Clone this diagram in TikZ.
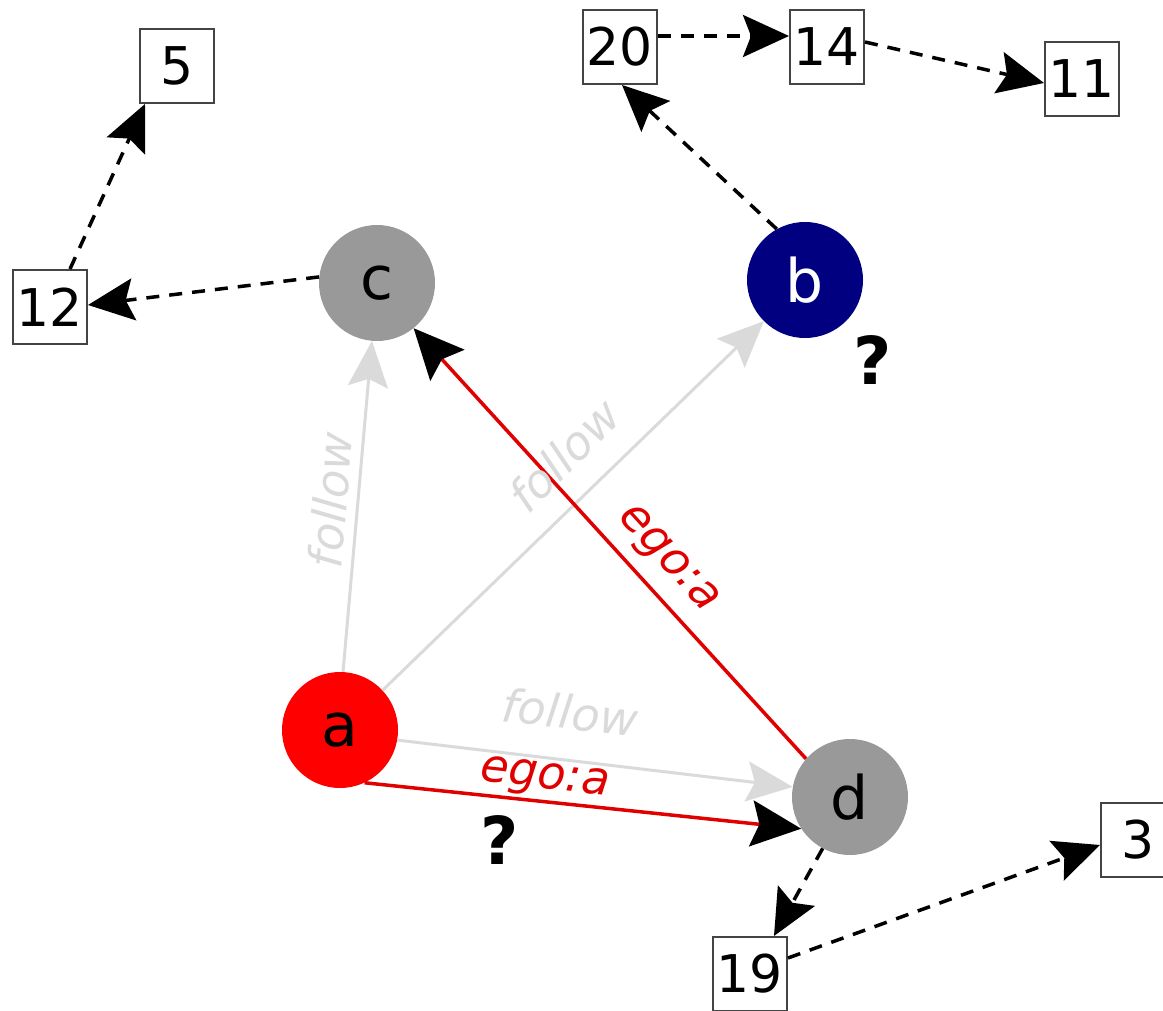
\documentclass[tikz,border=0pt]{standalone}
\usepackage{fontspec}
\setmainfont{DejaVu Sans}
\usetikzlibrary{arrows.meta}
\definecolor{edgegray}{HTML}{DADADA}
\definecolor{nodegray}{HTML}{999999}
\definecolor{egored}{HTML}{E00000}
\definecolor{bnavy}{HTML}{000080}
\definecolor{boxline}{HTML}{444444}
\tikzset{
  person/.style={circle,minimum size=116pt,inner sep=0pt,font=\fontsize{60}{60}\selectfont},
  numbox/.style={draw=boxline,line width=2pt,fill=white,minimum size=74pt,inner sep=0pt,font=\fontsize{52}{52}\selectfont},
  followedge/.style={draw=edgegray,line width=3pt,-{Stealth[length=46pt,width=40pt,inset=8pt,fill=edgegray]}},
  egoedge/.style={draw=egored,line width=3.5pt,-{Stealth[length=50pt,width=46pt,inset=8pt,fill=black,color=black]}},
  dashedge/.style={draw=black,line width=3.5pt,dash pattern=on 13pt off 10pt,-{Stealth[length=46pt,width=42pt,inset=8pt,fill=black]}},
  flabel/.style={text=edgegray,font=\fontsize{46}{46}\selectfont\itshape},
  elabel/.style={text=egored,font=\fontsize{46}{46}\selectfont\itshape},
  qmark/.style={font=\fontsize{66}{66}\selectfont\bfseries}
}
\begin{document}
\begin{tikzpicture}[x=1pt,y=-1pt]
\useasboundingbox (0,0) rectangle (1163,1011);
\clip (0,0) rectangle (1163,1011);
% persons
\node[person,fill=red] (a) at (340,730) {a};
\node[person,fill=nodegray] (c) at (377,283) {c};
\node[person,fill=bnavy,text=white] (b) at (805,280) {b};
\node[person,fill=nodegray] (d) at (850,797) {d};
% number boxes
\node[numbox] (n5) at (177,66) {5};
\node[numbox] (n12) at (50,307) {12};
\node[numbox] (n20) at (620,47) {20};
\node[numbox] (n14) at (827,47) {14};
\node[numbox] (n11) at (1082,79) {11};
\node[numbox] (n3) at (1138,840) {3};
\node[numbox] (n19) at (750,974) {19};
% follow edges
\draw[followedge] (a.87) -- (c.-95);
\draw[followedge] (a.43) -- (b.-135);
\draw[followedge] (a.-10) -- (d.170);
% ego edges
\draw[egoedge] (a.-65) -- (d.213);
\draw[egoedge] (d.139) -- (c.-51);
% dashed edges
\draw[dashedge] (c.174) -- ([yshift=2pt]n12.east);
\draw[dashedge] ([xshift=20pt]n12.north) -- ([xshift=-32pt]n5.south);
\draw[dashedge] (b.119) -- ([xshift=2pt]n20.south);
\draw[dashedge] ([yshift=11pt]n20.east) -- ([yshift=11pt]n14.west);
\draw[dashedge] ([yshift=5pt]n14.east) -- ([yshift=-4pt]n11.west);
\draw[dashedge] (d.-118) -- ([xshift=24pt]n19.north);
\draw[dashedge] ([yshift=16pt]n19.east) -- ([yshift=-5pt]n3.west);
% labels
\node[flabel,rotate=85] (f1) at (330,500) {follow};
\node[flabel,rotate=45] (f2) at (564,455) {follow};
\node[flabel,rotate=-6.8] (f3) at (570,712) {follow};
\node[elabel,rotate=-6.6] (e1) at (545,780) {ego:a};
\node[elabel,rotate=-47.7] (e2) at (667,560) {ego:a};
\node[qmark] (q1) at (500,840) {?};
\node[qmark] (q2) at (873,360) {?};
\end{tikzpicture}
\end{document}
